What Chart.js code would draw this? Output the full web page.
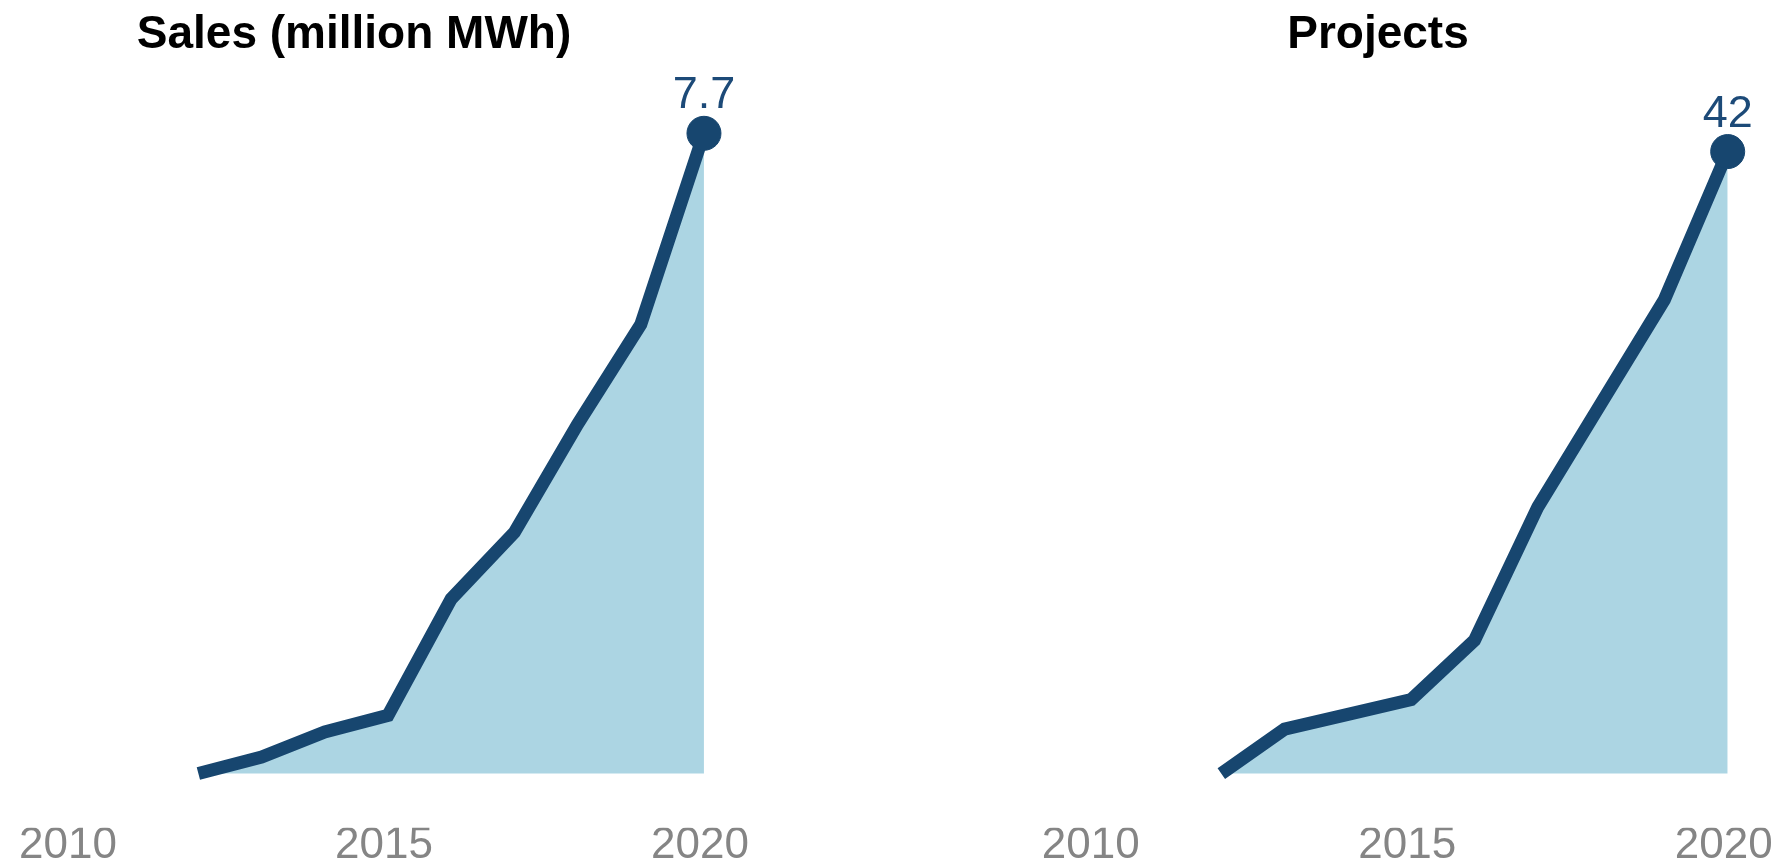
<!DOCTYPE html>
<html>
<head>
<meta charset="utf-8">
<script src="https://cdn.jsdelivr.net/npm/chart.js@4.4.1/dist/chart.umd.min.js"></script>
<style>
  html, body { margin: 0; padding: 0; background: #ffffff; overflow: hidden; width: 1789px; height: 863px; }
  canvas { position: absolute; top: 0; }
  #salesChart { left: -50px; }
  #projectsChart { left: 974px; }
</style>
</head>
<body>
<canvas id="salesChart" width="808" height="863"></canvas>
<canvas id="projectsChart" width="808" height="863"></canvas>
<script>
// ---- data ----
const years = [2012, 2013, 2014, 2015, 2016, 2017, 2018, 2019, 2020];
const salesValues = [0, 0.2, 0.5, 0.7, 2.1, 2.9, 4.2, 5.4, 7.7];
const projectValues = [0, 3, 4, 5, 9, 18, 25, 32, 42];
const tickYears = [2010, 2015, 2020];
const salesTitle = 'Sales (million MWh)';
const projectsTitle = 'Projects';

// ---- styles ----
const LINE_COLOR = '#17466f';
const FILL_COLOR = '#acd5e3';
const LABEL_COLOR = '#1c4a78';
const TICK_COLOR = '#858585';
const FONT = '"Liberation Sans", Arial, Helvetica, sans-serif';

const lastValueLabel = {
  id: 'lastValueLabel',
  afterDatasetsDraw(chart) {
    const ctx = chart.ctx;
    chart.data.datasets.forEach((ds, i) => {
      const meta = chart.getDatasetMeta(i);
      const idx = ds.data.length - 1;
      const pt = meta.data[idx];
      if (!pt) return;
      ctx.save();
      ctx.font = '45px ' + FONT;
      ctx.fillStyle = LABEL_COLOR;
      ctx.textAlign = 'center';
      ctx.textBaseline = 'alphabetic';
      ctx.fillText(String(ds.data[idx].y), pt.x, pt.y - 25);
      ctx.restore();
    });
  }
};

function makeChart(id, title, values, xMin, xMax, yMin, yMax) {
  const pts = years.map((yr, i) => ({ x: yr, y: values[i] }));
  const last = pts.length - 1;
  return new Chart(document.getElementById(id), {
    type: 'line',
    data: {
      datasets: [{
        data: pts,
        borderColor: LINE_COLOR,
        borderWidth: 13,
        borderJoinStyle: 'miter',
        backgroundColor: FILL_COLOR,
        fill: 'origin',
        tension: 0,
        pointRadius: (c) => c.dataIndex === last ? 17 : 0,
        pointHoverRadius: (c) => c.dataIndex === last ? 17 : 0,
        pointBackgroundColor: LINE_COLOR,
        pointBorderColor: LINE_COLOR,
        pointBorderWidth: 1
      }]
    },
    options: {
      responsive: false,
      animation: false,
      devicePixelRatio: 1,
      layout: { padding: 0, autoPadding: false },
      plugins: {
        legend: { display: false },
        tooltip: { enabled: false },
        title: {
          display: true,
          text: title,
          color: '#000000',
          font: { family: FONT, size: 46, weight: 'bold', lineHeight: 1.2 },
          padding: { top: 7.5, bottom: 0 }
        }
      },
      scales: {
        x: {
          type: 'linear',
          min: xMin,
          max: xMax,
          border: { display: false },
          grid: { display: false, drawTicks: false },
          afterBuildTicks: (axis) => { axis.ticks = tickYears.map(v => ({ value: v })); },
          ticks: {
            color: TICK_COLOR,
            font: { family: FONT, size: 44, lineHeight: 0.8 },
            padding: 0,
            labelOffset: -4,
            maxRotation: 0,
            callback: (v) => String(v)
          }
        },
        y: {
          display: false,
          min: yMin,
          max: yMax
        }
      }
    },
    plugins: [lastValueLabel]
  });
}

makeChart('salesChart', salesTitle, salesValues, 2008.070, 2020.855, -0.652, 8.549);
makeChart('projectsChart', projectsTitle, projectValues, 2008.093, 2020.858, -3.66, 48.0);
</script>
</body>
</html>
